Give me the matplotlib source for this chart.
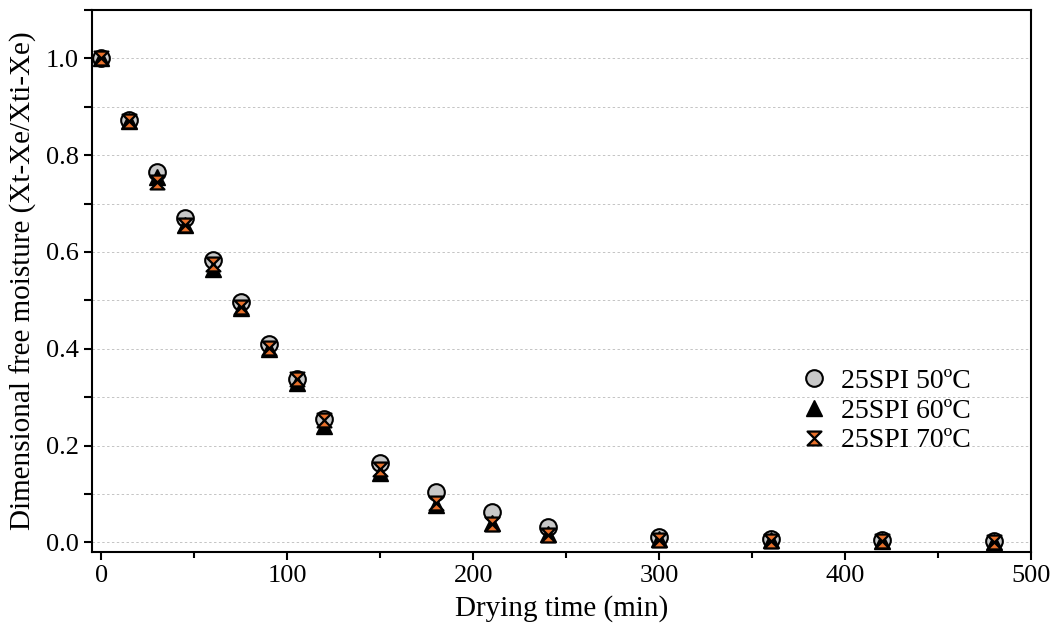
import matplotlib
matplotlib.use("Agg")
import matplotlib.pyplot as plt
from matplotlib.path import Path
from matplotlib.ticker import MultipleLocator

time_min = [0, 15, 30, 45, 60, 75, 90, 105, 120, 150, 180, 210, 240, 300, 360, 420, 480]
mr_50 = [1.0, 0.872, 0.765, 0.670, 0.584, 0.497, 0.410, 0.338, 0.254, 0.164, 0.105, 0.063, 0.031, 0.012, 0.006, 0.004, 0.003]
mr_60 = [1.0, 0.870, 0.755, 0.655, 0.565, 0.485, 0.400, 0.330, 0.240, 0.144, 0.078, 0.040, 0.017, 0.007, 0.004, 0.002, 0.001]
mr_70 = [1.0, 0.870, 0.745, 0.655, 0.575, 0.487, 0.402, 0.338, 0.252, 0.152, 0.081, 0.038, 0.015, 0.005, 0.003, 0.002, 0.001]
labels = ["25SPI 50ºC", "25SPI 60ºC", "25SPI 70ºC"]

plt.rcParams['font.family'] = ['Liberation Serif', 'DejaVu Serif']

hourglass = Path([(-1, 1), (1, 1), (-1, -1), (1, -1), (-1, 1)],
                 [Path.MOVETO, Path.LINETO, Path.LINETO, Path.LINETO, Path.CLOSEPOLY])

fig = plt.figure(figsize=(10.54, 6.43), dpi=100)
ax = fig.add_axes([92/1054, 1 - 552/643, (1031-92)/1054, (552-10)/643])

ax.plot(time_min, mr_50, linestyle='none', marker='o', markersize=12,
        markerfacecolor='#c8c8c8', markeredgecolor='black', markeredgewidth=1.5, label=labels[0], zorder=3)
ax.plot(time_min, mr_60, linestyle='none', marker='^', markersize=11,
        markerfacecolor='black', markeredgecolor='black', markeredgewidth=1.0, label=labels[1], zorder=4)
ax.plot(time_min, mr_70, linestyle='none', marker=hourglass, markersize=10,
        markerfacecolor='#e8702a', markeredgecolor='black', markeredgewidth=1.6, label=labels[2], zorder=5)

ax.set_xlim(-5, 500)
ax.set_ylim(-0.02, 1.1)
ax.xaxis.set_major_locator(MultipleLocator(100))
ax.xaxis.set_minor_locator(MultipleLocator(50))
ax.yaxis.set_major_locator(MultipleLocator(0.2))
ax.yaxis.set_minor_locator(MultipleLocator(0.1))
ax.yaxis.set_major_formatter(matplotlib.ticker.FormatStrFormatter('%.1f'))

for y in [0.0, 0.1, 0.2, 0.3, 0.4, 0.5, 0.6, 0.7, 0.8, 0.9, 1.0]:
    ax.axhline(y, color='#c4c4c4', linestyle=(0, (2.5, 2.5)), linewidth=0.7, zorder=1)

ax.tick_params(axis='both', which='major', direction='out', length=6, width=1.5, labelsize=19, top=False, right=False)
ax.tick_params(axis='y', which='minor', direction='out', length=6, width=1.5)
ax.tick_params(axis='x', which='minor', direction='out', length=4, width=1.5)
for s in ax.spines.values():
    s.set_linewidth(1.5)

ax.set_xlabel('Drying time (min)', fontsize=21, labelpad=6)
ax.set_ylabel('Dimensional free moisture (Xt-Xe/Xti-Xe)', fontsize=21, labelpad=6)

ax.legend(loc='center left', bbox_to_anchor=(0.725, 0.26), frameon=False, fontsize=20,
          handletextpad=0.35, labelspacing=0.15, handlelength=1.2)

fig.savefig('out.png', dpi=100)
